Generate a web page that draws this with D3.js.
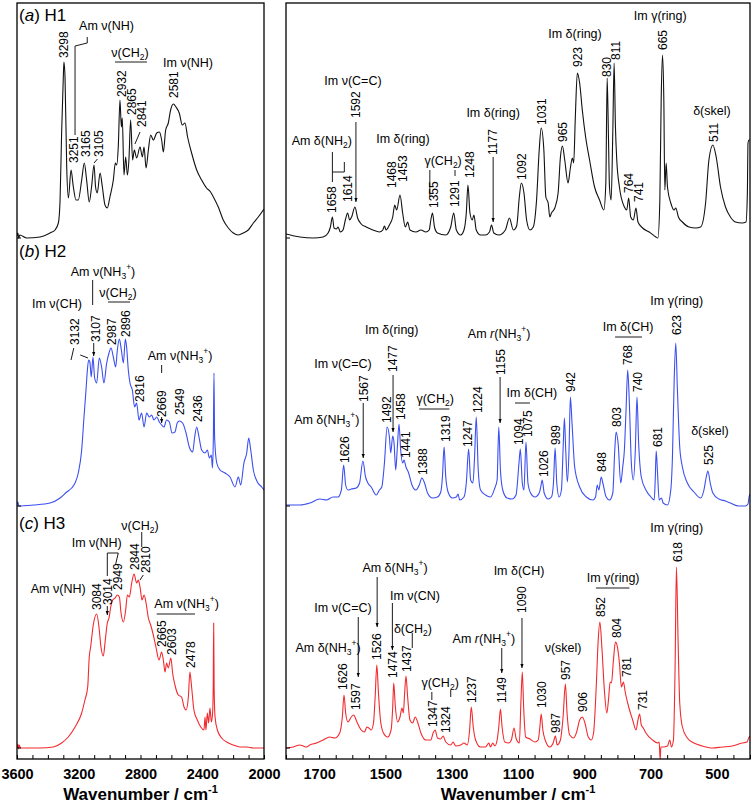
<!DOCTYPE html>
<html><head><meta charset="utf-8">
<script src="https://cdn.jsdelivr.net/npm/d3@7"></script>
<style>body{margin:0;background:#fff}</style>
</head><body>
<svg id="chart" width="753" height="805"></svg>
<script>
// ---------- DATA: spectra [wavenumber, intensity (arb.)] ----------
const specA_L = [[3600,2],[3594,5],[3589,0],[3582,3],[3537,0],[3451,1],[3386,5],[3354,8],[3332,15],[3321,38],[3311,105],[3300,161],[3296,176],[3289,161],[3278,71],[3267,40],[3250,68],[3235,51],[3218,38],[3203,38],[3181,58],[3164,75],[3149,58],[3132,36],[3117,51],[3101,73],[3091,51],[3080,45],[3062,65],[3047,51],[3030,33],[3015,30],[2998,41],[2976,58],[2963,75],[2954,73],[2944,91],[2933,138],[2924,111],[2918,120],[2907,63],[2896,81],[2885,63],[2875,78],[2864,118],[2851,78],[2840,88],[2825,80],[2803,91],[2788,81],[2777,91],[2764,70],[2749,88],[2734,103],[2717,98],[2695,105],[2678,106],[2663,98],[2652,86],[2637,108],[2620,115],[2605,128],[2587,134],[2570,131],[2549,125],[2529,113],[2512,115],[2495,101],[2469,85],[2436,68],[2404,58],[2372,50],[2346,46],[2328,41],[2296,31],[2264,18],[2231,10],[2199,5],[2166,3],[2134,5],[2102,8],[2069,15],[2037,21],[2000,29]];
const specA_R = [[1800,4],[1758,1],[1718,0],[1688,1],[1673,5],[1666,11],[1660,21],[1655,10],[1648,9],[1643,11],[1636,6],[1628,8],[1621,18],[1614,25],[1608,18],[1602,21],[1592,31],[1584,20],[1573,14],[1558,11],[1538,8],[1518,6],[1508,8],[1503,12],[1498,8],[1488,13],[1478,21],[1472,33],[1466,28],[1456,43],[1448,25],[1440,11],[1433,16],[1426,8],[1408,6],[1393,8],[1378,6],[1368,8],[1363,18],[1358,25],[1352,11],[1343,5],[1318,3],[1303,11],[1294,25],[1286,8],[1273,3],[1263,8],[1256,25],[1251,53],[1245,25],[1238,18],[1233,23],[1226,8],[1213,3],[1198,3],[1186,6],[1180,13],[1173,5],[1158,3],[1138,8],[1126,20],[1114,8],[1104,12],[1096,41],[1090,55],[1082,45],[1074,18],[1064,8],[1054,11],[1044,38],[1036,88],[1030,110],[1022,88],[1016,41],[1009,35],[1004,21],[999,25],[989,30],[979,45],[972,81],[966,92],[959,78],[949,55],[942,70],[936,80],[932,75],[927,121],[921,165],[914,155],[906,128],[896,101],[884,78],[869,51],[854,38],[841,28],[835,55],[831,160],[827,100],[824,51],[819,38],[814,105],[810,175],[806,111],[802,78],[794,51],[779,31],[772,28],[766,40],[760,21],[752,18],[744,30],[738,16],[724,10],[704,6],[684,1],[678,0],[672,38],[668,138],[664,183],[660,138],[657,48],[653,75],[649,51],[639,35],[629,28],[624,30],[616,21],[604,16],[584,11],[564,10],[549,11],[534,35],[524,78],[512,93],[502,81],[489,51],[474,31],[459,21],[444,16],[424,15],[412,16],[408,44],[406,95],[403,98],[400,98]];
const specB_L = [[3600,1],[3594,4],[3589,0],[3494,1],[3386,3],[3321,8],[3278,14],[3246,18],[3224,23],[3203,33],[3181,56],[3166,89],[3153,116],[3144,136],[3136,146],[3128,144],[3119,129],[3108,149],[3097,128],[3084,123],[3067,148],[3052,139],[3037,123],[3019,143],[3004,153],[2991,158],[2976,149],[2961,139],[2950,156],[2937,167],[2924,156],[2911,143],[2898,167],[2890,159],[2879,136],[2868,123],[2853,116],[2838,99],[2825,103],[2810,86],[2793,93],[2777,79],[2760,93],[2743,89],[2728,91],[2713,86],[2695,89],[2678,84],[2663,81],[2648,79],[2631,86],[2613,84],[2596,73],[2577,74],[2562,83],[2549,85],[2527,83],[2505,73],[2484,59],[2462,54],[2449,69],[2436,79],[2421,69],[2404,56],[2382,53],[2367,56],[2354,48],[2341,51],[2334,38],[2328,69],[2324,133],[2320,69],[2306,43],[2285,36],[2253,33],[2220,29],[2188,19],[2166,29],[2151,21],[2130,43],[2112,53],[2099,68],[2086,56],[2069,36],[2043,24],[2015,19],[2000,16]];
const specB_R = [[1800,1],[1758,1],[1728,3],[1698,7],[1678,6],[1658,9],[1643,9],[1633,16],[1626,41],[1620,21],[1613,16],[1603,17],[1588,18],[1578,23],[1568,45],[1560,29],[1553,23],[1543,19],[1528,11],[1518,16],[1511,19],[1503,43],[1495,79],[1488,69],[1484,53],[1478,70],[1474,63],[1469,36],[1464,59],[1459,82],[1454,56],[1448,43],[1444,46],[1438,39],[1430,33],[1420,21],[1408,16],[1398,21],[1390,28],[1382,23],[1373,13],[1358,8],[1343,9],[1333,14],[1328,29],[1323,59],[1318,29],[1310,13],[1298,8],[1286,9],[1281,12],[1276,6],[1263,9],[1256,23],[1249,57],[1243,26],[1236,23],[1231,49],[1226,89],[1220,36],[1213,16],[1198,11],[1183,9],[1170,18],[1163,26],[1158,79],[1153,36],[1146,16],[1133,8],[1118,7],[1106,11],[1097,43],[1093,57],[1087,23],[1082,16],[1076,64],[1070,23],[1062,13],[1049,9],[1036,13],[1032,18],[1027,26],[1021,13],[1009,7],[999,9],[993,23],[988,58],[983,23],[976,9],[969,16],[964,56],[960,88],[956,56],[951,24],[946,56],[942,109],[937,83],[929,39],[914,19],[894,9],[874,6],[866,9],[861,21],[856,16],[849,29],[844,23],[834,9],[824,6],[814,13],[808,56],[804,74],[798,63],[790,23],[784,39],[779,56],[774,96],[769,136],[764,103],[758,43],[752,26],[746,56],[741,109],[736,63],[728,29],[714,16],[699,9],[689,6],[686,26],[683,55],[679,33],[674,6],[667,8],[662,3],[649,1],[639,16],[634,49],[629,123],[624,163],[619,116],[612,59],[604,39],[589,23],[569,14],[549,8],[539,16],[532,29],[527,35],[520,23],[512,13],[494,7],[474,5],[459,3],[434,0],[414,0],[406,2],[403,9],[400,12]];
const specC_L = [[3600,0],[3594,4],[3590,-1],[3585,3],[3578,0],[3537,0],[3451,0],[3365,1],[3311,5],[3268,11],[3224,21],[3181,35],[3160,48],[3142,61],[3132,91],[3123,101],[3106,123],[3084,134],[3069,121],[3056,101],[3041,92],[3028,108],[3015,125],[3004,130],[2993,141],[2980,148],[2965,150],[2950,153],[2937,151],[2926,135],[2911,126],[2896,138],[2885,153],[2872,151],[2857,165],[2842,174],[2825,165],[2814,168],[2803,161],[2790,148],[2777,153],[2764,145],[2749,130],[2734,123],[2717,113],[2700,101],[2680,88],[2663,96],[2652,88],[2641,76],[2631,85],[2620,80],[2603,90],[2592,75],[2577,63],[2555,53],[2534,51],[2518,41],[2505,38],[2490,51],[2480,76],[2469,61],[2454,38],[2432,28],[2410,21],[2389,18],[2382,31],[2376,18],[2367,35],[2359,25],[2350,40],[2341,26],[2333,35],[2329,60],[2326,125],[2323,60],[2317,31],[2302,18],[2274,10],[2242,6],[2199,3],[2156,1],[2112,1],[2069,0],[2000,0]];
const specC_R = [[1800,0],[1778,1],[1758,3],[1748,2],[1738,1],[1728,3],[1708,5],[1688,8],[1668,11],[1653,10],[1638,15],[1630,31],[1625,53],[1620,35],[1613,26],[1603,31],[1596,33],[1586,26],[1573,18],[1563,16],[1556,21],[1550,20],[1543,18],[1536,25],[1531,51],[1526,83],[1521,55],[1515,28],[1506,15],[1493,11],[1483,18],[1478,41],[1475,65],[1470,41],[1463,26],[1456,31],[1450,40],[1446,35],[1442,55],[1438,72],[1433,51],[1426,28],[1418,25],[1410,31],[1403,26],[1393,15],[1378,8],[1363,8],[1356,15],[1350,18],[1343,10],[1333,9],[1326,12],[1318,6],[1303,3],[1296,6],[1288,2],[1273,3],[1263,5],[1253,3],[1246,18],[1241,41],[1235,21],[1228,8],[1213,1],[1198,1],[1188,5],[1183,1],[1176,5],[1170,2],[1163,8],[1158,21],[1153,39],[1148,21],[1140,6],[1128,5],[1120,8],[1112,20],[1106,10],[1096,5],[1091,48],[1087,76],[1083,41],[1077,11],[1064,9],[1049,6],[1039,8],[1034,21],[1030,34],[1025,18],[1018,8],[1004,1],[994,5],[987,12],[982,3],[972,8],[964,31],[957,64],[952,35],[944,13],[932,10],[924,15],[914,28],[906,31],[898,25],[888,11],[879,8],[872,15],[864,61],[858,108],[853,126],[847,101],[840,61],[832,35],[827,48],[822,66],[818,65],[812,88],[806,106],[800,101],[794,85],[788,61],[782,66],[776,55],[766,41],[754,28],[744,18],[738,28],[733,34],[728,23],[722,20],[714,15],[694,8],[679,5],[674,6],[671,-12],[669,1],[662,1],[649,2],[642,8],[637,1],[631,8],[626,81],[622,181],[617,108],[612,45],[604,21],[589,10],[569,5],[544,2],[514,0],[484,1],[454,2],[424,5],[409,6],[404,10],[400,12]];

// ---------- axis ticks ----------
const ticksL = [3600,3200,2800,2400,2000];
const ticksR = [1700,1500,1300,1100,900,700,500];
const axisTitle = "Wavenumber / cm";

// ---------- annotations ----------
const labelsA_L = [[3296,180,"3298"],[3235,75,"3251"],[3155,81,"3165"],[3069,81,"3105"],[2922,141,"2932"],[2855,123,"2865"],[2790,111,"2841"],[2583,140,"2581"]];
const textsA_L = [[3198,213,"Am ν(NH)","start"],[2868,186,"ν(CH_2)"],[2492,176,"Im ν(NH)"]];
const linesA_L = [[[3145,201],[3145,195],[3224,192],[3224,103]],[[2965,176],[2758,176]],[[3101,75],[3079,79]],[[2836,94],[2803,106]]];
const arrowsA_L = [];

const labelsA_R = [[1661,25,"1658"],[1614,36,"1614"],[1589,120,"1592"],[1481,50,"1468"],[1449,56,"1453"],[1353,30,"1355"],[1290,31,"1291"],[1245,60,"1248"],[1175,83,"1177"],[1089,58,"1092"],[1028,113,"1031"],[965,96,"965"],[920,171,"923"],[833,161,"830"],[805,178,"811"],[662,188,"665"],[765,45,"764"],[736,36,"741"],[509,96,"511"]];
const textsA_R = [[1692,98,"Am δ(NH_2)"],[1598,158,"Im ν(C=C)"],[1447,100,"Im δ(ring)"],[1326,78,"γ(CH_2)"],[1175,126,"Im δ(ring)"],[928,205,"Im δ(ring)"],[671,223,"Im γ(ring)"],[515,128,"δ(skel)"]];
const linesA_R = [[[1660,86],[1660,56]],[[1660,66],[1624,66],[1624,76]],[[1366,68],[1366,41]],[[1290,68],[1290,62]]];
const arrowsA_R = [[1589,116,36],[1175,81,16]];

const labelsB_L = [[3224,161,"3132"],[3090,164,"3107"],[2985,161,"2987"],[2896,169,"2896"],[2803,104,"2816"],[2663,89,"2669"],[2544,91,"2549"],[2430,84,"2436"]];
const textsB_L = [[3043,235,"Am ν(NH_3^+)"],[3341,203,"Im ν(CH)"],[2946,214,"ν(CH_2)"],[2544,151,"Am ν(NH_3^+)"]];
const linesB_L = [[[3110,226],[3110,201]],[[3011,204],[2868,204]],[[2663,141],[2663,133]],[[3250,146],[3232,158]],[[3190,151],[3140,148]]];
const arrowsB_L = [[3103,163,150],[2663,89,83]];

const labelsB_R = [[1622,43,"1626"],[1565,104,"1567"],[1497,83,"1492"],[1477,134,"1477"],[1455,86,"1458"],[1438,48,"1441"],[1387,31,"1388"],[1318,64,"1319"],[1251,59,"1247"],[1222,93,"1224"],[1152,131,"1155"],[1099,61,"1094"],[1072,69,"1075"],[1024,29,"1026"],[986,61,"989"],[941,114,"942"],[847,34,"848"],[802,79,"803"],[768,141,"768"],[739,114,"740"],[680,59,"681"],[621,171,"623"],[524,41,"525"]];
const textsB_R = [[1677,87,"Am δ(NH_3^+)"],[1628,143,"Im ν(C=C)"],[1481,177,"Im δ(ring)"],[1350,108,"γ(CH_2)"],[1157,173,"Am *r*(NH_3^+)"],[1058,114,"Im δ(CH)"],[768,180,"Im δ(CH)"],[621,206,"Im γ(ring)"],[521,76,"δ(skel)"]];
const linesB_R = [[[1398,97],[1307,97]],[[1109,103],[1064,103]],[[807,169],[726,169]]];
const arrowsB_R = [[1567,103,48],[1477,131,74],[1154,129,83]];

const labelsC_L = [[3084,138,"3084"],[3015,143,"3014"],[2946,158,"2949"],[2836,178,"2844"],[2766,175,"2810"],[2663,101,"2665"],[2598,93,"2603"],[2473,80,"2478"]];
const textsC_L = [[3084,206,"Im ν(NH)"],[2803,223,"ν(CH_2)"],[2501,145,"Am ν(NH_3^+)"],[3333,160,"Am ν(NH)"]];
const linesC_L = [[[2792,216],[2792,201]],[[2695,134],[2447,134]],[[2803,168],[2782,173]],[[3015,172],[3015,195],[2944,195],[2962,183]]];
const arrowsC_L = [[3015,142,133]];

const labelsC_R = [[1628,58,"1626"],[1589,38,"1597"],[1525,88,"1526"],[1477,70,"1474"],[1435,76,"1437"],[1356,21,"1347"],[1318,15,"1324"],[1239,45,"1237"],[1149,45,"1149"],[1088,135,"1090"],[1028,40,"1030"],[986,15,"987"],[956,68,"957"],[905,36,"906"],[850,131,"852"],[802,110,"804"],[771,71,"781"],[724,38,"731"],[617,186,"618"]];
const textsC_R = [[1673,101,"Am δ(NH_3^+)"],[1628,141,"Im ν(C=C)"],[1471,181,"Am δ(NH_3^+)"],[1411,153,"Im ν(CN)"],[1417,120,"δ(CH_2)"],[1335,66,"γ(CH_2)"],[1203,110,"Am *r*(NH_3^+)"],[1097,178,"Im δ(CH)"],[964,101,"ν(skel)"],[813,171,"Im γ(ring)"],[621,221,"Im γ(ring)"]];
const linesC_R = [[[1419,115],[1419,100]],[[1360,56],[1360,48]],[[1303,58],[1303,51]],[[865,160],[764,160]]];
const arrowsC_R = [[1582,131,71],[1525,171,121],[1479,145,98],[1149,100,75],[1088,130,80]];

const panelTitles = [["a","H1"],["b","H2"],["c","H3"]];

// ---------- LAYOUT ----------
const FONT = "'Liberation Sans', Arial, Helvetica, sans-serif";
const colors = ["#111111", "#3b4ff0", "#f22a2e"];
const frameTop = 3, frameBottom = 759;
const bases = [238, 506, 748];
const NUM_FS = 12, TXT_FS = 12.5;
const xL = d3.scaleLinear().domain([3600, 2000]).range([17, 264]);
const xR = d3.scaleLinear().domain([1800, 400]).range([286, 750]);
const yScales = bases.map(b => d3.scaleLinear().domain([0, 250]).range([b, b - 250]));

const svg = d3.select("#chart").style("font-family", FONT);
const defs = svg.append("defs");
defs.append("marker").attr("id", "arr").attr("viewBox", "0 0 10 10").attr("refX", 10).attr("refY", 5)
  .attr("markerWidth", 5).attr("markerHeight", 5).attr("orient", "auto")
  .append("path").attr("d", "M0,1 L10,5 L0,9 Z").attr("fill", "#000");
[["clipL", xL], ["clipR", xR]].forEach(([id, x]) => {
  defs.append("clipPath").attr("id", id).append("rect")
    .attr("x", x.range()[0]).attr("y", frameTop).attr("width", x.range()[1] - x.range()[0]).attr("height", frameBottom - frameTop);
});

function rich(textSel, str, fs) {
  const parts = str.split(/(_.|\^.|\*[^*]+\*)/).filter(s => s.length);
  let cur = 0;
  parts.forEach(p => {
    let t = p, size = fs, target = 0, italic = false;
    if (p[0] === "_" && p.length === 2) { t = p[1]; size = fs * 0.68; target = fs * 0.28; }
    else if (p[0] === "^" && p.length === 2) { t = p[1]; size = fs * 0.68; target = -fs * 0.42; }
    else if (p[0] === "*" && p.length > 2) { t = p.slice(1, -1); italic = true; }
    const ts = textSel.append("tspan").attr("font-size", size).attr("dy", target - cur).text(t);
    if (italic) ts.attr("font-style", "italic");
    cur = target;
  });
}

const spectra = [[specA_L, specA_R], [specB_L, specB_R], [specC_L, specC_R]];
const ann = [
  [[labelsA_L, textsA_L, linesA_L, arrowsA_L], [labelsA_R, textsA_R, linesA_R, arrowsA_R]],
  [[labelsB_L, textsB_L, linesB_L, arrowsB_L], [labelsB_R, textsB_R, linesB_R, arrowsB_R]],
  [[labelsC_L, textsC_L, linesC_L, arrowsC_L], [labelsC_R, textsC_R, linesC_R, arrowsC_R]]
];

[xL, xR].forEach((x, side) => {
  const g = svg.append("g");
  spectra.forEach((pair, i) => {
    const y = yScales[i];
    const line = d3.line().x(d => x(d[0])).y(d => y(d[1])).curve(d3.curveMonotoneX);
    g.append("path").attr("clip-path", side ? "url(#clipR)" : "url(#clipL)")
      .attr("d", line(pair[side])).attr("fill", "none").attr("stroke", colors[i])
      .attr("stroke-width", 1.1).attr("stroke-linejoin", "round");
  });
  ann.forEach((pa, i) => {
    const y = yScales[i];
    const [labels, texts, lines, arrows] = pa[side];
    labels.forEach(([w, v, t]) => {
      g.append("text").attr("transform", `translate(${x(w)},${y(v)}) rotate(-90)`)
        .attr("dy", "0.36em").attr("font-size", NUM_FS).attr("fill", "#000").text(t);
    });
    texts.forEach(([w, v, t, anchor]) => {
      const tx = g.append("text").attr("x", x(w)).attr("y", y(v) + 4.5)
        .attr("text-anchor", anchor || "middle").attr("font-size", TXT_FS).attr("fill", "#000");
      rich(tx, t, TXT_FS);
    });
    lines.forEach(pts => {
      g.append("path").attr("d", d3.line().x(d => x(d[0])).y(d => y(d[1]))(pts))
        .attr("fill", "none").attr("stroke", "#000").attr("stroke-width", 0.9);
    });
    arrows.forEach(([w, v1, v2]) => {
      g.append("line").attr("x1", x(w)).attr("x2", x(w)).attr("y1", y(v1)).attr("y2", y(v2))
        .attr("stroke", "#000").attr("stroke-width", 0.9).attr("marker-end", "url(#arr)");
    });
    g.append("line").attr("x1", x.range()[0]).attr("x2", x.range()[0] + 4)
      .attr("y1", y(0)).attr("y2", y(0)).attr("stroke", "#000").attr("stroke-width", 1);
  });
  g.append("rect").attr("x", x.range()[0]).attr("y", frameTop)
    .attr("width", x.range()[1] - x.range()[0]).attr("height", frameBottom - frameTop)
    .attr("fill", "none").attr("stroke", "#000").attr("stroke-width", 1.3);
  const step = side ? 50 : 100;
  const [d0, d1] = x.domain();
  const majors = side ? ticksR : ticksL;
  const vals = d3.range(d1, d0 + 1, step);
  const axis = d3.axisBottom(x).tickValues(vals).tickSizeInner(-4).tickSizeOuter(0).tickPadding(10)
    .tickFormat(d => majors.includes(d) ? String(d) : "");
  const ag = svg.append("g").attr("transform", `translate(0,${frameBottom})`).call(axis);
  ag.select(".domain").remove();
  ag.selectAll(".tick line").attr("stroke", "#000").attr("stroke-width", 1);
  ag.selectAll(".tick text").attr("font-family", FONT).attr("font-size", 14.5)
    .attr("font-weight", "bold").attr("fill", "#000");
  const tt = svg.append("text").attr("x", (x.range()[0] + x.range()[1]) / 2).attr("y", 800)
    .attr("text-anchor", "middle").attr("font-size", 17).attr("font-weight", "bold").attr("fill", "#000");
  tt.append("tspan").text(axisTitle);
  tt.append("tspan").attr("font-size", 11).attr("dy", -7).text("-1");
});

const titleY = [15, 251, 523];
panelTitles.forEach(([l, h], i) => {
  const t = svg.append("text").attr("x", 19).attr("y", titleY[i] + 6).attr("font-size", 17).attr("fill", "#000");
  t.append("tspan").text("(");
  t.append("tspan").attr("font-style", "italic").text(l);
  t.append("tspan").text(") " + h);
});
</script>
</body></html>
